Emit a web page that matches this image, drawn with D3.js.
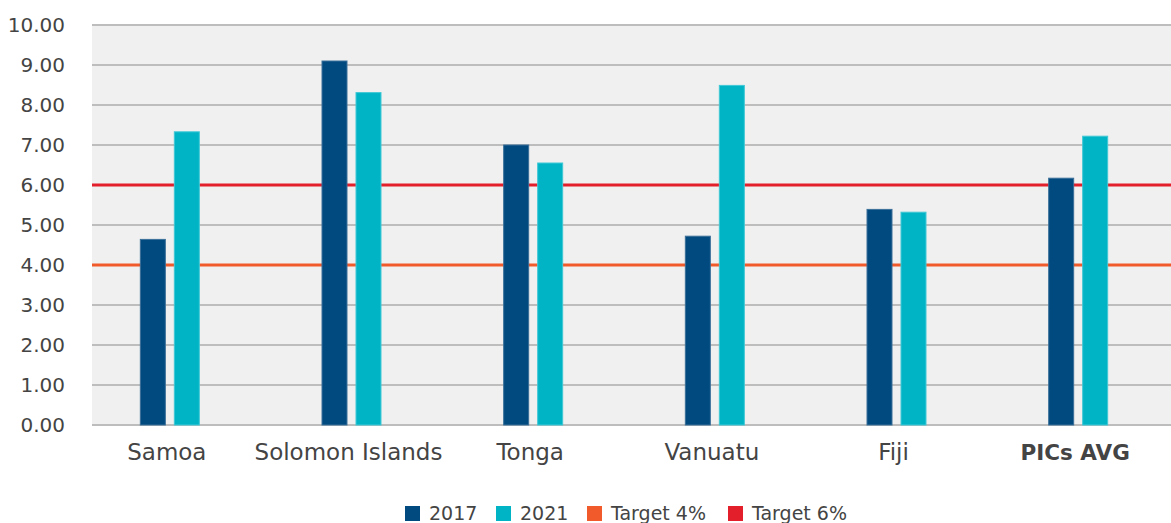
<!DOCTYPE html>
<html>
<head>
<meta charset="utf-8">
<script src="https://cdn.jsdelivr.net/npm/d3@7"></script>
<style>
  body { margin: 0; background: #fff; }
  text { font-family: "DejaVu Sans", "Liberation Sans", Arial, sans-serif; fill: #444; }
</style>
</head>
<body>
<div id="chart"></div>
<script>
// chart data
var countries = ["Samoa", "Solomon Islands", "Tonga", "Vanuatu", "Fiji", "PICs AVG"];
var values2017 = [4.64, 9.1, 7.0, 4.72, 5.39, 6.17];
var values2021 = [7.33, 8.31, 6.55, 8.49, 5.32, 7.22];
var yTicks = [0, 1, 2, 3, 4, 5, 6, 7, 8, 9, 10];
var targets = [{name: "Target 4%", value: 4, color: "#f15a2b"},
               {name: "Target 6%", value: 6, color: "#e21f2b"}];

var svgWidth = 1171;
var svgHeight = 523;

var svg = d3.select("#chart")
  .append("svg")
  .attr("width", svgWidth)
  .attr("height", svgHeight);

var plotLeft = 92, plotRight = 1171, plotTop = 25, plotBottom = 425;

// scales
var xScale = d3.scaleBand()
  .domain(countries)
  .range([79, 1169]);

var yScale = d3.scaleLinear()
  .domain([0, 10])
  .range([plotBottom, plotTop]);

// background of plot area
svg.append("rect")
  .attr("x", plotLeft)
  .attr("y", plotTop)
  .attr("width", plotRight - plotLeft)
  .attr("height", plotBottom - plotTop)
  .attr("fill", "#f0f0f0");

// gridlines
svg.append("g")
  .selectAll("line")
  .data(yTicks)
  .enter()
  .append("line")
  .attr("x1", plotLeft)
  .attr("x2", plotRight)
  .attr("y1", d => yScale(d))
  .attr("y2", d => yScale(d))
  .attr("stroke", "#bdbdbd")
  .attr("stroke-width", 2);

// y labels
svg.append("g")
  .selectAll("text")
  .data(yTicks)
  .enter()
  .append("text")
  .attr("x", 65)
  .attr("y", d => yScale(d))
  .attr("dy", "0.36em")
  .attr("text-anchor", "end")
  .style("font-size", "20px")
  .text(d => d.toFixed(2));

// target lines (behind bars)
svg.append("g")
  .selectAll("line")
  .data(targets)
  .enter()
  .append("line")
  .attr("x1", plotLeft)
  .attr("x2", plotRight)
  .attr("y1", d => yScale(d.value))
  .attr("y2", d => yScale(d.value))
  .attr("stroke", d => d.color)
  .attr("stroke-width", 3);

// bars
var barW = 25;
var offset = 17;
var series = [
  {name: "2017", values: values2017, color: "#004a7f", stroke: "#3a6f99", dx: -offset},
  {name: "2021", values: values2021, color: "#00b4c6", stroke: "#40c8d6", dx: offset}
];

series.forEach(function(s) {
  svg.append("g")
    .selectAll("rect")
    .data(countries)
    .enter()
    .append("rect")
    .attr("x", d => xScale(d) + xScale.bandwidth() / 2 + s.dx - barW / 2)
    .attr("y", (d, i) => yScale(s.values[i]))
    .attr("width", barW)
    .attr("height", (d, i) => yScale(0) - yScale(s.values[i]))
    .attr("fill", s.color)
    .attr("stroke", s.stroke)
    .attr("stroke-width", 1);
});

// x labels
svg.append("g")
  .selectAll("text")
  .data(countries)
  .enter()
  .append("text")
  .attr("x", d => xScale(d) + xScale.bandwidth() / 2 - 3)
  .attr("y", 460)
  .attr("text-anchor", "middle")
  .style("font-size", d => d === "PICs AVG" ? "21.5px" : "23px")
  .style("font-weight", d => d === "PICs AVG" ? "bold" : "normal")
  .text(d => d);

// legend
var legendItems = [
  {name: "2017", color: "#004a7f", x: 405},
  {name: "2021", color: "#00b4c6", x: 496},
  {name: "Target 4%", color: "#f15a2b", x: 587},
  {name: "Target 6%", color: "#e21f2b", x: 728}
];

var legend = svg.append("g");
legend.selectAll("rect")
  .data(legendItems)
  .enter()
  .append("rect")
  .attr("x", d => d.x)
  .attr("y", 506)
  .attr("width", 15)
  .attr("height", 15)
  .attr("fill", d => d.color);

legend.selectAll("text")
  .data(legendItems)
  .enter()
  .append("text")
  .attr("x", d => d.x + 24)
  .attr("y", 520)
  .style("font-size", "19px")
  .text(d => d.name);
</script>
</body>
</html>
